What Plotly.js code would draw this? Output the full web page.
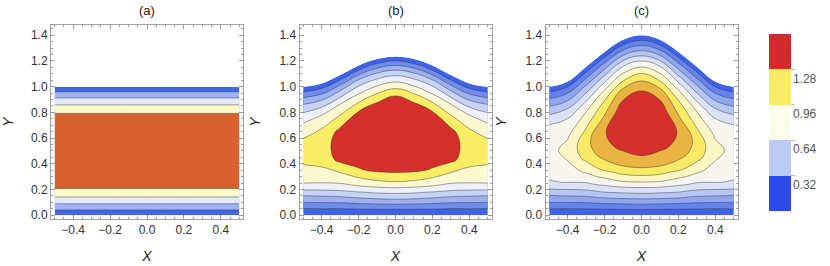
<!DOCTYPE html>
<html><head><meta charset="utf-8">
<script src="https://cdn.plot.ly/plotly-3.0.1.min.js"></script>
<style>html,body{margin:0;padding:0;background:#fff}#chart{width:830px;height:266px}</style>
</head><body><div id="chart"></div>
<script>
// ---------- data ----------
const xCols = [-0.5, -0.4, -0.3, -0.2, -0.1, 0, 0.1, 0.2, 0.3, 0.4, 0.5];
// normalised height across the channel (0 = bottom wall, 1 = top wall)
const etaRows = [0, 0.05, 0.1, 0.15, 0.2, 0.25, 0.3, 0.4, 0.5, 0.6, 0.7, 0.75, 0.8, 0.85, 0.9, 0.95, 1];

// (a) flat channel: profile across the channel (same at every X)
const profileA = [0, 0.376, 0.669, 0.947, 1.181, 1.30, 1.36, 1.42, 1.45, 1.42, 1.36, 1.30, 1.181, 0.947, 0.669, 0.376, 0];

// upper wall heights at xCols
const wallA = [1, 1, 1, 1, 1, 1, 1, 1, 1, 1, 1];
const wallB = [1.0, 1.025, 1.09, 1.165, 1.215, 1.235, 1.215, 1.165, 1.09, 1.025, 1.0];
const wallC = [1.0, 1.04, 1.155, 1.27, 1.365, 1.40, 1.365, 1.27, 1.155, 1.04, 1.0];

// (b) field: one column per xCols entry, values along etaRows
const fieldB = [
  [0, 0.192, 0.404, 0.592, 0.815, 1.003, 1.071, 1.21, 1.30, 1.195, 1.033, 0.923, 0.794, 0.642, 0.462, 0.249, 0],
  [0, 0.205, 0.42, 0.622, 0.84, 1.016, 1.098, 1.25, 1.32, 1.28, 1.133, 1.031, 0.868, 0.688, 0.494, 0.26, 0],
  [0, 0.22, 0.458, 0.684, 0.916, 1.073, 1.186, 1.46, 1.48, 1.45, 1.231, 1.11, 0.98, 0.76, 0.55, 0.286, 0],
  [0, 0.25, 0.521, 0.775, 1.02, 1.198, 1.38, 1.49, 1.53, 1.49, 1.39, 1.21, 1.035, 0.855, 0.625, 0.32, 0],
  [0, 0.269, 0.576, 0.843, 1.11, 1.314, 1.46, 1.54, 1.58, 1.54, 1.46, 1.31, 1.114, 0.906, 0.668, 0.343, 0],
  [0, 0.277, 0.6, 0.869, 1.154, 1.353, 1.47, 1.56, 1.6, 1.57, 1.47, 1.405, 1.19, 0.948, 0.694, 0.356, 0],
  [0, 0.269, 0.576, 0.843, 1.11, 1.314, 1.46, 1.54, 1.58, 1.54, 1.46, 1.31, 1.114, 0.906, 0.668, 0.343, 0],
  [0, 0.25, 0.521, 0.775, 1.02, 1.198, 1.38, 1.49, 1.53, 1.49, 1.39, 1.21, 1.035, 0.855, 0.625, 0.32, 0],
  [0, 0.22, 0.458, 0.684, 0.916, 1.073, 1.186, 1.46, 1.48, 1.45, 1.231, 1.11, 0.98, 0.76, 0.55, 0.286, 0],
  [0, 0.205, 0.42, 0.622, 0.84, 1.016, 1.098, 1.25, 1.32, 1.28, 1.133, 1.031, 0.868, 0.688, 0.494, 0.26, 0],
  [0, 0.192, 0.404, 0.592, 0.815, 1.003, 1.071, 1.21, 1.30, 1.195, 1.033, 0.923, 0.794, 0.642, 0.462, 0.249, 0]
];

// (c) field
const fieldC = [
  [0, 0.165, 0.325, 0.465, 0.624, 0.771, 0.83, 0.89, 0.92, 0.89, 0.805, 0.708, 0.598, 0.475, 0.339, 0.199, 0],
  [0, 0.165, 0.339, 0.50, 0.666, 0.813, 0.86, 0.955, 1.0, 0.94, 0.84, 0.746, 0.632, 0.499, 0.355, 0.205, 0],
  [0, 0.191, 0.383, 0.567, 0.752, 0.88, 0.994, 1.19, 1.23, 1.10, 0.951, 0.842, 0.713, 0.565, 0.40, 0.224, 0],
  [0, 0.221, 0.456, 0.679, 0.869, 1.04, 1.208, 1.38, 1.43, 1.30, 1.125, 1.013, 0.852, 0.659, 0.459, 0.246, 0],
  [0, 0.245, 0.509, 0.752, 0.998, 1.185, 1.335, 1.49, 1.54, 1.53, 1.36, 1.171, 0.993, 0.795, 0.538, 0.272, 0],
  [0, 0.259, 0.535, 0.781, 1.042, 1.231, 1.40, 1.52, 1.56, 1.52, 1.43, 1.265, 1.071, 0.835, 0.56, 0.28, 0],
  [0, 0.245, 0.509, 0.752, 0.998, 1.185, 1.335, 1.49, 1.54, 1.53, 1.36, 1.171, 0.993, 0.795, 0.538, 0.272, 0],
  [0, 0.221, 0.456, 0.679, 0.869, 1.04, 1.208, 1.38, 1.43, 1.30, 1.125, 1.013, 0.852, 0.659, 0.459, 0.246, 0],
  [0, 0.191, 0.383, 0.567, 0.752, 0.88, 0.994, 1.19, 1.23, 1.10, 0.951, 0.842, 0.713, 0.565, 0.40, 0.224, 0],
  [0, 0.165, 0.339, 0.50, 0.666, 0.813, 0.86, 0.955, 1.0, 0.94, 0.84, 0.746, 0.632, 0.499, 0.355, 0.205, 0],
  [0, 0.165, 0.325, 0.465, 0.624, 0.771, 0.83, 0.89, 0.92, 0.89, 0.805, 0.708, 0.598, 0.475, 0.339, 0.199, 0]
];

// contour levels of each panel
const levelsA = [0.3, 1.2, 0.3];     // start, end, step
const levelsB = [0.2, 1.4, 0.2];
const levelsC = [0.16, 1.44, 0.16];

// colour bar
const barTicks = [0.32, 0.64, 0.96, 1.28];
const barRange = [0, 1.6];
const panelLabels = ['(a)', '(b)', '(c)'];

// ---------- styles ----------
const colorsA = ['#4466ea', '#9fb2f1', '#e2e8f8', '#fbf8ca', '#d9602f'];
const colorsB = ['#3f62ea', '#6f8cee', '#9db1f1', '#c7d3f6', '#eef1f9', '#fcf9d2', '#f9ed66', '#d42f2b'];
const colorsC = ['#3f62ea', '#6482ed', '#8ea5f0', '#b5c5f4', '#dbe2f7', '#f6f6ef', '#fbf6c2', '#f8ea65', '#e9b443', '#d42f2b'];
const barColors = ['#2d4beb', '#bccbf4', '#fcfceb', '#f9eb64', '#d22a2d'];

const scaleOf = cols => cols.map((c, j) => [j / (cols.length - 1), c]);
const stepScale = cols => {
  const out = [];
  cols.forEach((c, j) => { out.push([j / cols.length, c]); out.push([(j + 1) / cols.length, c]); });
  return out;
};
const lineStyle = {color: 'rgba(45,45,45,0.55)', width: 0.8, smoothing: 1.2};
const FONT = 'Liberation Sans, Arial, sans-serif';

function carpetTables(wall, field) {
  const a = [], b = [], x = [], y = [], z = [];
  etaRows.forEach((eta, j) => {
    xCols.forEach((xc, i) => {
      a.push(xc); b.push(eta); x.push(xc); y.push(eta * wall[i]); z.push(field[i][j]);
    });
  });
  return {a, b, x, y, z};
}
const hiddenCarpetAxis = {
  showgrid: false, showline: false, startline: false, endline: false,
  showticklabels: 'none', minorgridcount: 0,
  gridcolor: 'rgba(0,0,0,0)', linecolor: 'rgba(0,0,0,0)', smoothing: 1
};

const traces = [];
// (a)
traces.push({
  type: 'contour', x: xCols, y: etaRows.map((e) => e * wallA[0]),
  z: profileA.map(v => xCols.map(() => v)),
  autocontour: false,
  contours: {start: levelsA[0], end: levelsA[1], size: levelsA[2], coloring: 'fill', showlines: true},
  line: lineStyle, colorscale: scaleOf(colorsA), showscale: false, hoverinfo: 'skip',
  xaxis: 'x', yaxis: 'y'
});
// (b), (c)
[[wallB, fieldB, levelsB, colorsB, 'cb', 'x2', 'y2'], [wallC, fieldC, levelsC, colorsC, 'cc', 'x3', 'y3']]
  .forEach(([wall, field, lv, cols, id, xa, ya]) => {
    const t = carpetTables(wall, field);
    traces.push({
      type: 'carpet', carpet: id, a: t.a, b: t.b, x: t.x, y: t.y,
      aaxis: hiddenCarpetAxis, baxis: hiddenCarpetAxis, xaxis: xa, yaxis: ya
    });
    traces.push({
      type: 'contourcarpet', carpet: id, a: t.a, b: t.b, z: t.z,
      autocontour: false,
      contours: {start: lv[0], end: lv[1], size: lv[2], coloring: 'fill', showlines: true},
      line: lineStyle, colorscale: scaleOf(cols), showscale: false, hoverinfo: 'skip',
      xaxis: xa, yaxis: ya
    });
  });
// colour bar holder
traces.push({
  type: 'scatter', x: [null], y: [null], mode: 'markers', hoverinfo: 'skip', showlegend: false,
  marker: {
    color: [barRange[0]], cmin: barRange[0], cmax: barRange[1], colorscale: stepScale(barColors), showscale: true,
    colorbar: {
      x: 769 / 830, xanchor: 'left', xpad: 0, y: (266 - 34) / 266, yanchor: 'top', ypad: 0,
      lenmode: 'pixels', len: 177, thicknessmode: 'pixels', thickness: 22, outlinewidth: 0,
      tickmode: 'array', tickvals: barTicks, ticktext: barTicks.map(v => v.toFixed(2)),
      ticks: 'outside', ticklen: 4, tickcolor: '#bbbbbb', ticklabelposition: 'outside bottom',
      tickfont: {family: FONT, size: 12, color: '#555555'}
    }
  },
  xaxis: 'x', yaxis: 'y'
});

const yDom = [47 / 266, 241 / 266];
function xAxis(dom) {
  return {
    domain: dom, range: [-0.52, 0.52], tick0: 0, dtick: 0.2, tickformat: '.1f',
    ticks: 'inside', ticklen: 4, tickcolor: '#999', showline: true, linecolor: '#a0a0a0', linewidth: 1,
    mirror: 'allticks', showgrid: false, zeroline: false,
    minor: {dtick: 0.05, tick0: 0, ticks: 'inside', ticklen: 2, tickcolor: '#999', showgrid: false},
    tickfont: {family: FONT, size: 12, color: '#333'},
    title: {text: '<i>X</i>', font: {family: FONT, size: 14, color: '#222'}, standoff: 14}
  };
}
function yAxis(anchor) {
  return {
    domain: yDom, anchor: anchor, range: [-0.03, 1.48], tick0: 0, dtick: 0.2, tickformat: '.1f',
    ticks: 'inside', ticklen: 4, tickcolor: '#999', showline: true, linecolor: '#a0a0a0', linewidth: 1,
    mirror: 'allticks', showgrid: false, zeroline: false,
    minor: {dtick: 0.05, tick0: 0, ticks: 'inside', ticklen: 2, tickcolor: '#999', showgrid: false},
    tickfont: {family: FONT, size: 12, color: '#333'},
    title: {text: '<i>Y</i>', font: {family: FONT, size: 14, color: '#222'}, standoff: 15}
  };
}
const xDoms = [[51 / 830, 243 / 830], [299.5 / 830, 491.5 / 830], [545.5 / 830, 737.5 / 830]];
const layout = {
  width: 830, height: 266, margin: {l: 0, r: 0, t: 0, b: 0},
  paper_bgcolor: '#fff', plot_bgcolor: '#fff', showlegend: false,
  font: {family: FONT},
  xaxis: Object.assign(xAxis(xDoms[0]), {anchor: 'y'}),
  xaxis2: Object.assign(xAxis(xDoms[1]), {anchor: 'y2'}),
  xaxis3: Object.assign(xAxis(xDoms[2]), {anchor: 'y3'}),
  yaxis: yAxis('x'), yaxis2: yAxis('x2'), yaxis3: yAxis('x3'),
  annotations: panelLabels.map((t, i) => ({
    text: t, xref: 'paper', yref: 'paper', x: (xDoms[i][0] + xDoms[i][1]) / 2, y: (266 - 10) / 266,
    xanchor: 'center', yanchor: 'middle', showarrow: false, font: {family: FONT, size: 13, color: '#222'}
  }))
};
Plotly.newPlot('chart', traces, layout, {displayModeBar: false, staticPlot: true});
</script></body></html>
